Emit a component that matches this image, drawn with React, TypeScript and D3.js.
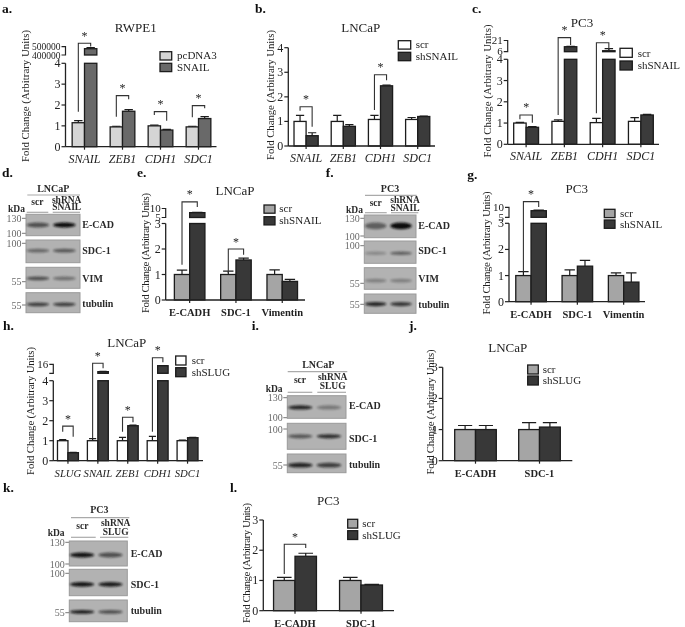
import React from "react";
import * as d3 from "d3";

const FONT = "'Liberation Serif', 'Times New Roman', serif";
const INK = "#232323";

// ---------- data: bar panels ----------
const aCategories = ["SNAIL", "ZEB1", "CDH1", "SDC1"];
const aSeries = ["pcDNA3", "SNAIL"];
const aControl = [1.15, 0.95, 1.0, 0.95];
const aControlErr = [0.1, 0.03, 0.03, 0.03];
const aTreated = [476000, 1.7, 0.8, 1.35];
const aTreatedErr = [12000, 0.08, 0.03, 0.09];
const aBrackets = [
  ["SNAIL", 1.68, 4.96, 4.8],
  ["ZEB1", 1.44, 2.45, 2.27],
  ["CDH1", 1.52, 1.68, 1.25],
  ["SDC1", 1.41, 1.97, 1.84],
];

const bCategories = ["SNAIL", "ZEB1", "CDH1", "SDC1"];
const bSeries = ["scr", "shSNAIL"];
const bControl = [1.0, 1.0, 1.08, 1.08];
const bControlErr = [0.25, 0.25, 0.17, 0.08];
const bTreated = [0.42, 0.8, 2.45, 1.2];
const bTreatedErr = [0.12, 0.07, 0.03, 0.02];
const bBrackets = [
  ["SNAIL", 1.43, 1.6, 0.78],
  ["CDH1", 1.46, 2.9, 2.68],
];

const cCategories = ["SNAIL", "ZEB1", "CDH1", "SDC1"];
const cSeries = ["scr", "shSNAIL"];
const cControl = [1.0, 1.08, 1.02, 1.08];
const cControlErr = [0.03, 0.07, 0.2, 0.18];
const cTreated = [0.8, 12.1, 6.4, 1.38];
const cTreatedErr = [0.03, 0.4, 2.9, 0.03];
const cBrackets = [
  ["SNAIL", 1.18, 1.38, 1.02],
  ["ZEB1", 1.38, 5.02, 4.67],
  ["CDH1", 1.46, 4.78, 4.44],
];

const eCategories = ["E-CADH", "SDC-1", "Vimentin"];
const eSeries = ["scr", "shSNAIL"];
const eControl = [1.0, 1.0, 1.0];
const eControlErr = [0.17, 0.13, 0.18];
const eTreated = [7.7, 1.57, 0.73];
const eTreatedErr = [0.2, 0.07, 0.08];
const eBrackets = [
  ["E-CADH", 1.38, 3.85, 3.65],
  ["SDC-1", 1.06, 2.0, 1.77],
];

const gCategories = ["E-CADH", "SDC-1", "Vimentin"];
const gSeries = ["scr", "shSNAIL"];
const gControl = [1.0, 1.0, 1.0];
const gControlErr = [0.15, 0.22, 0.1];
const gTreated = [8.3, 1.36, 0.75];
const gTreatedErr = [0.35, 0.22, 0.35];
const gBrackets = [["E-CADH", 1.15, 3.83, 3.62]];

const hCategories = ["SLUG", "SNAIL", "ZEB1", "CDH1", "SDC1"];
const hSeries = ["scr", "shSLUG"];
const hControl = [1.0, 1.0, 1.0, 1.0, 1.0];
const hControlErr = [0.05, 0.1, 0.17, 0.22, 0.03];
const hTreated = [0.4, 7, 1.75, 14.3, 1.15];
const hTreatedErr = [0.02, 0.4, 0.03, 0.1, 0.02];
const hBrackets = [
  ["SLUG", 1.45, 1.73, 1.2],
  ["SNAIL", 1.12, 4.87, 4.62],
  ["ZEB1", 1.45, 2.17, 1.92],
  ["CDH1", 1.45, 5.15, 4.92],
];

const jCategories = ["E-CADH", "SDC-1"];
const jSeries = ["scr", "shSLUG"];
const jControl = [1.0, 1.0];
const jControlErr = [0.13, 0.22];
const jTreated = [1.0, 1.08];
const jTreatedErr = [0.13, 0.14];

const lCategories = ["E-CADH", "SDC-1"];
const lSeries = ["scr", "shSLUG"];
const lControl = [1.0, 1.0];
const lControlErr = [0.1, 0.1];
const lTreated = [1.8, 0.85];
const lTreatedErr = [0.1, 0.02];
const lBrackets = [["E-CADH", 1.21, 2.2, 2.07]];

// ---------- data: blots (row name, band position, scr intensity, sh intensity, thickness) ----------
const dRows = [
  ["E-CAD", 0.5, 0.6, 1.0, 4],
  ["SDC-1", 0.47, 0.45, 0.55, 3],
  ["VIM", 0.53, 0.6, 0.4, 3],
  ["tubulin", 0.58, 0.7, 0.7, 3],
];
const fRows = [
  ["E-CAD", 0.48, 0.5, 1.0, 6],
  ["SDC-1", 0.55, 0.25, 0.5, 2.5],
  ["VIM", 0.6, 0.3, 0.3, 3],
  ["tubulin", 0.52, 0.85, 0.75, 3.5],
];
const iRows = [
  ["E-CAD", 0.52, 0.85, 0.35, 3.5],
  ["SDC-1", 0.5, 0.55, 0.8, 3.5],
  ["tubulin", 0.6, 0.85, 0.7, 4],
];
const kRows = [
  ["E-CAD", 0.56, 0.95, 0.6, 4],
  ["SDC-1", 0.57, 0.95, 0.9, 4],
  ["tubulin", 0.55, 0.9, 0.6, 3],
];

// ---------- layout ----------
type Panel = any;

const palettes = {
  light: ["#d5d5d5", "#696969"],
  white: ["#ffffff", "#3a3a3a"],
  grey: ["#a5a5a5", "#383838"],
};

const panels: Panel[] = [
  {
    title: "RWPE1", titleX: 135.7, titleY: 31.7, cats: aCategories, series: aSeries,
    control: aControl, controlErr: aControlErr, treated: aTreated, treatedErr: aTreatedErr, brackets: aBrackets,
    palette: palettes.light, axisX: 65.5, xEnd: 216.5, bandX: [65.5, 217.5], y0: 146.7, yTop: 63.3, yMax: 4,
    upper: { domain: [400000, 500000], range: [55, 46.7], labels: ["400000", "500000"], size: 9.5 },
    ylabel: [25, 96, 132], legend: [160, 51.7, 63.3, 11.7, 8.3, 177], italic: true, catSize: 12,
  },
  {
    title: "LNCaP", titleX: 360.7, titleY: 32.3, cats: bCategories, series: bSeries,
    control: bControl, controlErr: bControlErr, treated: bTreated, treatedErr: bTreatedErr, brackets: bBrackets,
    palette: palettes.white, axisX: 288.3, xEnd: 435, bandX: [287.5, 436.3], y0: 146, yTop: 47.7, yMax: 4,
    ylabel: [270, 95, 130], legend: [398.3, 40.7, 52.3, 12.4, 8.4, 415.7], italic: true, catSize: 12,
  },
  {
    title: "PC3", titleX: 582, titleY: 27.3, cats: cCategories, series: cSeries,
    control: cControl, controlErr: cControlErr, treated: cTreated, treatedErr: cTreatedErr, brackets: cBrackets,
    palette: palettes.white, axisX: 507.7, xEnd: 659, bandX: [507, 660], y0: 144.3, yTop: 59.3, yMax: 4,
    upper: { domain: [5, 21], range: [51.7, 40.5], labels: ["6", "21"], size: 11 },
    ylabel: [487, 91, 133], legend: [620, 48.3, 61, 12.3, 9, 637.7], italic: true, catSize: 12,
  },
  {
    title: "LNCaP", titleX: 235, titleY: 195, cats: eCategories, series: eSeries,
    control: eControl, controlErr: eControlErr, treated: eTreated, treatedErr: eTreatedErr, brackets: eBrackets,
    palette: palettes.grey, axisX: 165.7, xEnd: 305, bandX: [166.5, 305.4], y0: 300, yTop: 223.5, yMax: 3,
    upper: { domain: [5, 10], range: [217.5, 208.5], labels: ["5", "10"], size: 11 },
    ylabel: [145.7, 253, 120], legend: [264, 205, 216.7, 11, 8.2, 279.3], catSize: 10.5,
  },
  {
    title: "PC3", titleX: 576.7, titleY: 192.7, cats: gCategories, series: gSeries,
    control: gControl, controlErr: gControlErr, treated: gTreated, treatedErr: gTreatedErr, brackets: gBrackets,
    palette: palettes.grey, axisX: 509, xEnd: 645, bandX: [507.9, 646.8], y0: 301.7, yTop: 223.3, yMax: 3,
    upper: { domain: [5, 10], range: [217.3, 207.3], labels: ["5", "10"], size: 11 },
    ylabel: [486.7, 253, 123], legend: [604.3, 209.3, 220, 10.7, 8.3, 620], catSize: 10.5,
  },
  {
    title: "LNCaP", titleX: 126.7, titleY: 347.3, cats: hCategories, series: hSeries,
    control: hControl, controlErr: hControlErr, treated: hTreated, treatedErr: hTreatedErr, brackets: hBrackets,
    palette: palettes.white, axisX: 53.3, xEnd: 203, bandX: [53, 202.5], y0: 460.7, yTop: 380.7, yMax: 4,
    upper: { domain: [5, 16], range: [373.3, 364.3], labels: ["", "16"], size: 11 },
    ylabel: [30, 411, 128], legend: [175.7, 356, 367.7, 10.3, 9, 191.7], italic: true, catSize: 10.7,
  },
  {
    title: "LNCaP", titleX: 507.7, titleY: 351.7, cats: jCategories, series: jSeries,
    control: jControl, controlErr: jControlErr, treated: jTreated, treatedErr: jTreatedErr, brackets: [],
    palette: palettes.grey, axisX: 442.7, xEnd: 572.3, bandX: [443.5, 571.5], y0: 460.7, yTop: 367.3, yMax: 3,
    ylabel: [430, 412, 125], legend: [527.7, 365, 376, 10.6, 9, 542.7], catSize: 10.5,
  },
  {
    title: "PC3", titleX: 328.3, titleY: 505, cats: lCategories, series: lSeries,
    control: lControl, controlErr: lControlErr, treated: lTreated, treatedErr: lTreatedErr, brackets: lBrackets,
    palette: palettes.grey, axisX: 263.3, xEnd: 394, bandX: [262, 394], y0: 610.7, yTop: 520, yMax: 3,
    ylabel: [246, 563, 120], legend: [347.7, 519.3, 530.7, 10, 8.8, 362.3], catSize: 10.5,
  },
];

const blots: Panel[] = [
  {
    cell: "LNCaP", sh: "SNAIL", rows: dRows, x: [26, 80], rowY: [[214.3, 235.7], [240, 262.7], [267.3, 288.3], [292.7, 312.7]],
    headerX: 53.3, headerY: 192, lineY: 195, lineX: [27.3, 80], scrX: 37.3, scrY: 205, shX: 66.7, shY: [202.7, 210],
    under: [[26.7, 48.3], [52.7, 80]], underY: 212.3, kda: [8, 211.7],
    mw: [["130", 218.3], ["100", 233.3], ["100", 243.3], ["55", 281.7], ["55", 305]],
    labelX: 82.3, labelY: [225, 250.7, 278.3, 304],
  },
  {
    cell: "PC3", sh: "SNAIL", rows: fRows, x: [364.3, 416], rowY: [[215, 237.7], [241, 263.3], [267.7, 289.3], [294, 313.3]],
    headerX: 390, headerY: 192, lineY: 195.3, lineX: [365, 416.7], scrX: 375.7, scrY: 206, shX: 405, shY: [202.7, 210.7],
    under: [[365, 386.7], [391, 418.3]], underY: 212.7, kda: [346, 212.7],
    mw: [["130", 218.3], ["100", 236], ["100", 245.7], ["55", 283.3], ["55", 304.3]],
    labelX: 418.3, labelY: [225.7, 251, 278.3, 304.7],
  },
  {
    cell: "LNCaP", sh: "SLUG", rows: iRows, x: [287.3, 346], rowY: [[395.7, 418.3], [423.3, 449.3], [454, 472.7]],
    headerX: 318.3, headerY: 368.3, lineY: 371.7, lineX: [287.7, 347.3], scrX: 300, scrY: 383.3, shX: 332.7, shY: [380, 389.3],
    under: [[287.7, 312.3], [317.3, 346]], underY: 392.3, kda: [265.7, 391.7],
    mw: [["130", 397.7], ["100", 417.7], ["100", 429], ["55", 465]],
    labelX: 349, labelY: [405.7, 438.3, 465],
  },
  {
    cell: "PC3", sh: "SLUG", rows: kRows, x: [69.3, 127.3], rowY: [[541, 566], [569.3, 595.7], [600, 621.7]],
    headerX: 99.3, headerY: 513.3, lineY: 517.7, lineX: [71, 129.3], scrX: 82.3, scrY: 529.3, shX: 115.7, shY: [525.7, 535],
    under: [[71, 95.7], [100, 128.3]], underY: 537.3, kda: [47.7, 536],
    mw: [["130", 542.3], ["100", 564], ["100", 573.3], ["55", 612.7]],
    labelX: 130.7, labelY: [554, 585, 611],
  },
];

const panelLetters: [string, number, number][] = [
  ["a.", 2, 13], ["b.", 255, 12.7], ["c.", 472, 12.7], ["d.", 2, 177], ["e.", 137, 177], ["f.", 325.7, 177],
  ["g.", 467.3, 179], ["h.", 3, 330], ["i.", 251.7, 330], ["j.", 409, 330], ["k.", 3, 491.7], ["l.", 230, 491.7],
];

// ---------- components ----------
function BarPanel({ p }: { p: Panel }) {
  const x = d3.scaleBand<string>().domain(p.cats).range(p.bandX).paddingInner(0).paddingOuter(0);
  const step = x.step();
  const barW = step * (p.cats.length === 2 ? 0.325 : p.cats.length === 3 ? 0.33 : p.cats.length === 5 ? 0.35 : 0.325);
  const sub = d3.scaleBand<number>().domain([0, 1]).range([-barW, barW]);
  const y = d3.scaleLinear().domain([0, p.yMax]).range([p.y0, p.yTop]);
  const up = p.upper ? d3.scaleLinear().domain(p.upper.domain).range(p.upper.range) : null;
  const ticks = d3.range(0, p.yMax + 1);
  const edge = { stroke: "#1c1c1c", strokeWidth: 1.3 };

  const drawBar = (cat: string, i: number, s: number) => {
    const v = s === 0 ? p.control[i] : p.treated[i];
    const e = s === 0 ? p.controlErr[i] : p.treatedErr[i];
    const cx = x(cat)! + step / 2;
    const bx = cx + sub(s)!;
    const w = sub.bandwidth();
    const broken = up && v > p.yMax;
    const topY = broken ? up!(v) : y(v);
    const errY = broken ? up!(v + e) : y(v + e);
    const mid = bx + w / 2;
    const capW = w * 0.34;
    return (
      <g key={cat + s}>
        <path d={`M${mid},${topY}V${errY}M${mid - capW},${errY}H${mid + capW}`} fill="none" stroke="#1c1c1c" strokeWidth={1.2} />
        {broken ? (
          <>
            <rect x={bx} y={y(p.yMax)} width={w} height={p.y0 - y(p.yMax)} fill={p.palette[s]} {...edge} />
            <rect x={bx} y={topY} width={w} height={up!(p.upper.domain[0]) - topY} fill={p.palette[s]} {...edge} />
          </>
        ) : (
          <rect x={bx} y={topY} width={w} height={p.y0 - topY} fill={p.palette[s]} {...edge} />
        )}
      </g>
    );
  };

  return (
    <g fontFamily={FONT} fill={INK}>
      <text x={p.titleX} y={p.titleY} textAnchor="middle" fontSize={13}>{p.title}</text>
      <text
        transform={`translate(${p.ylabel[0] + 3.5},${p.ylabel[1]}) rotate(-90)`}
        textAnchor="middle" fontSize={10.8} textLength={p.ylabel[2]} lengthAdjust="spacing"
      >Fold Change (Arbitrary Units)</text>

      {p.cats.map((c: string, i: number) => [drawBar(c, i, 0), drawBar(c, i, 1)])}

      <path
        d={`M${p.axisX},${p.y0}V${p.yTop}M${p.axisX},${p.y0}H${p.xEnd}`}
        fill="none" stroke={INK} strokeWidth={1.3}
      />
      {ticks.map((t) => (
        <g key={t}>
          <line x1={p.axisX - 4} x2={p.axisX} y1={y(t)} y2={y(t)} stroke={INK} strokeWidth={1.2} />
          <text x={p.axisX - 5} y={y(t) + 4} textAnchor="end" fontSize={12}>{t}</text>
        </g>
      ))}
      {up && (
        <g>
          <path
            d={`M${p.axisX - 4},${up(p.upper.domain[0])}H${p.axisX}V${up(p.upper.domain[1])}H${p.axisX - 4}`}
            fill="none" stroke={INK} strokeWidth={1.2}
          />
          {p.upper.domain.map((d: number, i: number) => (
            <text key={d} x={p.axisX - 5} y={up(d) + 3.5} textAnchor="end" fontSize={p.upper.size}>{p.upper.labels[i]}</text>
          ))}
        </g>
      )}
      {p.cats.map((c: string) => {
        const cx = x(c)! + step / 2;
        return (
          <g key={c}>
            <line x1={cx} x2={cx} y1={p.y0} y2={p.y0 + 3} stroke={INK} strokeWidth={1.2} />
            <text
              x={cx} y={p.y0 + 16} textAnchor="middle" fontSize={p.catSize}
              fontStyle={p.italic ? "italic" : "normal"} fontWeight={p.italic ? 400 : 700}
            >{c}</text>
          </g>
        );
      })}

      {p.brackets.map((b: any) => {
        const cx = x(b[0])! + step / 2;
        const x1 = cx - barW * 0.5;
        const x2 = cx + barW * 0.5;
        return (
          <g key={b[0]}>
            <path d={`M${x1},${y(b[1])}V${y(b[2])}H${x2}V${y(b[3])}`} fill="none" stroke="#333" strokeWidth={1.1} />
            <text x={(x1 + x2) / 2} y={y(b[2]) - 3.5} textAnchor="middle" fontSize={12}>*</text>
          </g>
        );
      })}

      {p.series.map((s: string, i: number) => {
        const [lx, ly0, ly1, lw, lh, tx] = p.legend;
        const ly = i === 0 ? ly0 : ly1;
        return (
          <g key={s}>
            <rect x={lx} y={ly} width={lw} height={lh} fill={p.palette[i]} {...edge} />
            <text x={tx} y={ly + lh - 0.8} fontSize={11}>{s}</text>
          </g>
        );
      })}
    </g>
  );
}

function Blot({ b }: { b: Panel }) {
  const laneX = d3.scaleLinear().domain([0, 1]).range(b.x);
  const lanes = [0.22, 0.71];
  const laneHalf = (b.x[1] - b.x[0]) * 0.21;
  return (
    <g fontFamily={FONT} fill="#2a2a2a" fontWeight={700} fontSize={9.5}>
      <text x={b.headerX} y={b.headerY} textAnchor="middle" fontSize={10}>{b.cell}</text>
      <line x1={b.lineX[0]} x2={b.lineX[1]} y1={b.lineY} y2={b.lineY} stroke="#aaa" strokeWidth={1.2} />
      <text x={b.scrX} y={b.scrY} textAnchor="middle">scr</text>
      <text x={b.shX} y={b.shY[0]} textAnchor="middle">shRNA</text>
      <text x={b.shX} y={b.shY[1]} textAnchor="middle">{b.sh}</text>
      {b.under.map((u: number[], i: number) => (
        <line key={i} x1={u[0]} x2={u[1]} y1={b.underY} y2={b.underY} stroke="#aaa" strokeWidth={1.2} />
      ))}
      <text x={b.kda[0]} y={b.kda[1]} fontSize={9.5}>kDa</text>
      {b.mw.map((m: any[], i: number) => (
        <g key={i} fontWeight={400} fill="#6a6a6a">
          <line x1={b.x[0] - 4} x2={b.x[0]} y1={m[1]} y2={m[1]} stroke="#777" strokeWidth={1} />
          <text x={b.x[0] - 4.5} y={m[1] + 3.5} textAnchor="end" fontSize={10}>{m[0]}</text>
        </g>
      ))}
      {b.rows.map((r: any[], i: number) => {
        const [top, bottom] = b.rowY[i];
        const rowScale = d3.scaleLinear().domain([0, 1]).range([top, bottom]);
        return (
          <g key={r[0]}>
            <rect x={b.x[0]} y={top} width={b.x[1] - b.x[0]} height={bottom - top} fill="#b2b2b2" stroke="#9a9a9a" strokeWidth={1} />
            {lanes.map((l, k) => (
              <ellipse
                key={k} cx={laneX(l)} cy={rowScale(r[1])} rx={laneHalf} ry={r[4] / 2 + 0.4}
                fill="#111" opacity={r[2 + k]} filter="url(#bandBlur)"
              />
            ))}
            <text x={b.labelX} y={b.labelY[i] + 3.2} fontSize={10}>{r[0]}</text>
          </g>
        );
      })}
    </g>
  );
}

export default function App() {
  return (
    <svg
      width={685} height={627} viewBox="0 0 685 627"
      style={{ position: "absolute", left: 0, top: 0, background: "#fff" }}
    >
      <defs>
        <filter id="soft" x="0" y="0" width="100%" height="100%" filterUnits="userSpaceOnUse">
          <feGaussianBlur stdDeviation="0.4" />
        </filter>
        <filter id="bandBlur" x="-20%" y="-60%" width="140%" height="220%">
          <feGaussianBlur stdDeviation="0.9" />
        </filter>
      </defs>
      <g filter="url(#soft)">
        <rect width={685} height={627} fill="#fff" />
        {panelLetters.map(([t, lx, ly]) => (
          <text key={t} x={lx} y={ly} fontFamily={FONT} fontWeight={700} fontSize={13.5} fill="#111">{t}</text>
        ))}
        {blots.map((b, i) => <Blot key={i} b={b} />)}
        {panels.map((p, i) => <BarPanel key={i} p={p} />)}
      </g>
    </svg>
  );
}
